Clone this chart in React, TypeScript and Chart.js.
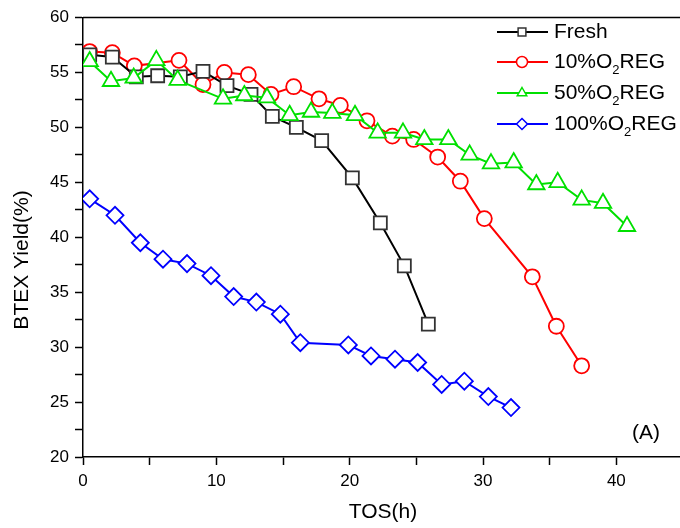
import React, { useEffect, useRef } from 'react';
import { Chart, registerables } from 'chart.js';
Chart.register(...registerables);

// TOS (h) and BTEX yield (%) for each catalyst
const freshT = [0.5, 2.2, 4.0, 5.6, 7.3, 9.0, 10.8, 12.6, 14.2, 16.0, 17.9, 20.2, 22.3, 24.1, 25.9];
const freshY = [56.6, 56.4, 54.6, 54.7, 54.6, 55.1, 53.8, 53.0, 51.0, 50.0, 48.8, 45.4, 41.3, 37.4, 32.1];

const reg10T = [0.5, 2.2, 3.85, 7.2, 9.0, 10.6, 12.4, 14.1, 15.8, 17.7, 19.3, 21.3, 23.2, 24.8, 26.6, 28.3, 30.1, 33.7, 35.5, 37.4];
const reg10Y = [56.9, 56.8, 55.6, 56.1, 53.9, 55.0, 54.8, 53.0, 53.7, 52.6, 52.0, 50.6, 49.2, 48.9, 47.3, 45.1, 41.7, 36.4, 31.9, 28.3];

const reg50T = [0.5, 2.1, 3.8, 5.5, 7.1, 10.5, 12.1, 13.8, 15.5, 17.1, 18.7, 20.4, 22.1, 24.0, 25.6, 27.4, 29.0, 30.6, 32.3, 34.0, 35.6, 37.4, 39.0, 40.8];
const reg50Y = [56.0, 54.2, 54.5, 56.1, 54.3, 52.6, 52.9, 52.7, 51.1, 51.4, 51.3, 51.1, 49.5, 49.5, 48.9, 48.9, 47.5, 46.7, 46.8, 44.8, 45.0, 43.4, 43.1, 41.0];

const reg100T = [0.5, 2.4, 4.3, 6.0, 7.8, 9.6, 11.3, 13.0, 14.8, 16.3, 19.9, 21.6, 23.4, 25.1, 26.9, 28.6, 30.4, 32.1];
const reg100Y = [43.5, 42.0, 39.5, 38.0, 37.6, 36.5, 34.6, 34.1, 33.0, 30.4, 30.2, 29.2, 28.9, 28.6, 26.6, 26.9, 25.5, 24.5];

// legend labels: [text, subscript, text]
const legendLabels: string[][] = [
  ['Fresh', '', ''],
  ['10%O', '2', 'REG'],
  ['50%O', '2', 'REG'],
  ['100%O', '2', 'REG'],
];
const seriesColors = ['#000000', '#ff0000', '#00e000', '#0000ff'];
const markerColors = ['#333333', '#ff0000', '#00e000', '#0000ff'];
const markerStyles = ['rect', 'circle', 'triangle', 'rectRot'];
const markerRadius = [9.2, 7.5, 9.5, 8.5];

const xTitle = 'TOS(h)';
const yTitle = 'BTEX Yield(%)';
const panelLabel = '(A)';

const FONT = '"Liberation Sans", Arial, sans-serif';

function toPoints(xs: number[], ys: number[]) {
  return xs.map((x, i) => ({ x, y: ys[i] }));
}

function drawMarker(ctx: CanvasRenderingContext2D, style: string, x: number, y: number, r: number) {
  ctx.beginPath();
  if (style === 'rect') {
    const s = r * Math.SQRT1_2;
    ctx.rect(x - s, y - s, 2 * s, 2 * s);
  } else if (style === 'circle') {
    ctx.arc(x, y, r, 0, Math.PI * 2);
  } else if (style === 'triangle') {
    ctx.moveTo(x, y - r);
    ctx.lineTo(x + r * 0.866, y + r * 0.5);
    ctx.lineTo(x - r * 0.866, y + r * 0.5);
    ctx.closePath();
  } else {
    ctx.moveTo(x, y - r);
    ctx.lineTo(x + r, y);
    ctx.lineTo(x, y + r);
    ctx.lineTo(x - r, y);
    ctx.closePath();
  }
  ctx.fill();
  ctx.stroke();
}

const decorPlugin = {
  id: 'decor',
  afterDraw(chart: any) {
    const { ctx, chartArea } = chart;
    ctx.save();
    // top border
    ctx.strokeStyle = '#000';
    ctx.lineWidth = 1.5;
    ctx.beginPath();
    ctx.moveTo(chartArea.left, chartArea.top);
    ctx.lineTo(chartArea.right + 5, chartArea.top);
    ctx.stroke();

    // legend
    const rows = [32, 62, 93, 124];
    legendLabels.forEach((parts, i) => {
      const y = rows[i];
      ctx.strokeStyle = seriesColors[i];
      ctx.lineWidth = 2;
      ctx.beginPath();
      ctx.moveTo(497, y);
      ctx.lineTo(548, y);
      ctx.stroke();
      ctx.fillStyle = '#fff';
      ctx.strokeStyle = markerColors[i];
      ctx.lineWidth = 1.5;
      drawMarker(ctx, markerStyles[i], 522, y, 5.5);
      ctx.fillStyle = '#000';
      ctx.font = `21px ${FONT}`;
      ctx.textBaseline = 'middle';
      ctx.textAlign = 'left';
      let x = 554;
      ctx.fillText(parts[0], x, y);
      x += ctx.measureText(parts[0]).width;
      if (parts[1]) {
        ctx.font = `13px ${FONT}`;
        ctx.fillText(parts[1], x, y + 8);
        x += ctx.measureText(parts[1]).width;
        ctx.font = `21px ${FONT}`;
      }
      if (parts[2]) ctx.fillText(parts[2], x, y);
    });

    // panel label
    ctx.font = `21px ${FONT}`;
    ctx.textAlign = 'center';
    ctx.textBaseline = 'middle';
    ctx.fillStyle = '#000';
    ctx.fillText(panelLabel, 646, 433);

    // axis titles
    ctx.fillText(xTitle, (chartArea.left + chartArea.right) / 2, 512);
    ctx.save();
    ctx.translate(22, 260);
    ctx.rotate(-Math.PI / 2);
    ctx.fillText(yTitle, 0, 0);
    ctx.restore();
    ctx.restore();
  },
};

export default function App() {
  const ref = useRef<HTMLCanvasElement>(null);
  useEffect(() => {
    const canvas = ref.current!;
    const mk = (xs: number[], ys: number[], i: number) => ({
      data: toPoints(xs, ys),
      borderColor: seriesColors[i],
      borderWidth: 2,
      pointStyle: markerStyles[i],
      pointRadius: markerRadius[i],
      pointBorderColor: markerColors[i],
      pointBackgroundColor: '#ffffff',
      pointBorderWidth: 1.8,
      tension: 0,
      fill: false,
    });
    const chart = new Chart(canvas, {
      type: 'line',
      data: {
        datasets: [
          mk(reg100T, reg100Y, 3),
          mk(reg50T, reg50Y, 2),
          mk(freshT, freshY, 0),
          mk(reg10T, reg10Y, 1),
        ],
      },
      options: {
        animation: false,
        responsive: false,
        maintainAspectRatio: false,
        devicePixelRatio: 1,
        layout: { padding: { top: 17.5, right: 17, left: 0, bottom: 0 } },
        plugins: { legend: { display: false }, tooltip: { enabled: false } },
        scales: {
          x: {
            type: 'linear',
            min: 0,
            max: 45,
            ticks: {
              stepSize: 5,
              autoSkip: false,
              maxRotation: 0,
              padding: 6,
              color: '#000',
              font: { family: FONT, size: 17 },
              callback: (v: any) => (Number(v) % 10 === 0 ? String(v) : ''),
            },
            grid: { drawOnChartArea: false, drawTicks: true, tickLength: 8, tickColor: '#000', tickWidth: 1.5 },
            border: { color: '#000', width: 1.5 },
            afterFit: (s: any) => { s.height = 71; },
          },
          y: {
            type: 'linear',
            min: 20,
            max: 60,
            ticks: {
              stepSize: 2.5,
              autoSkip: false,
              padding: 6,
              color: '#000',
              font: { family: FONT, size: 17 },
              callback: (v: any) => (Number(v) % 5 === 0 ? String(v) : ''),
            },
            grid: { drawOnChartArea: false, drawTicks: true, tickLength: 8, tickColor: '#000', tickWidth: 1.5 },
            border: { color: '#000', width: 1.5 },
            afterFit: (s: any) => { s.width = 83; },
          },
        },
      },
      plugins: [decorPlugin],
    } as any);
    return () => chart.destroy();
  }, []);
  return (
    <div style={{ position: 'fixed', left: 0, top: 0, width: 680, height: 528, overflow: 'hidden', background: '#fff' }}>
      <canvas ref={ref} width={700} height={528} style={{ display: 'block' }} />
    </div>
  );
}
